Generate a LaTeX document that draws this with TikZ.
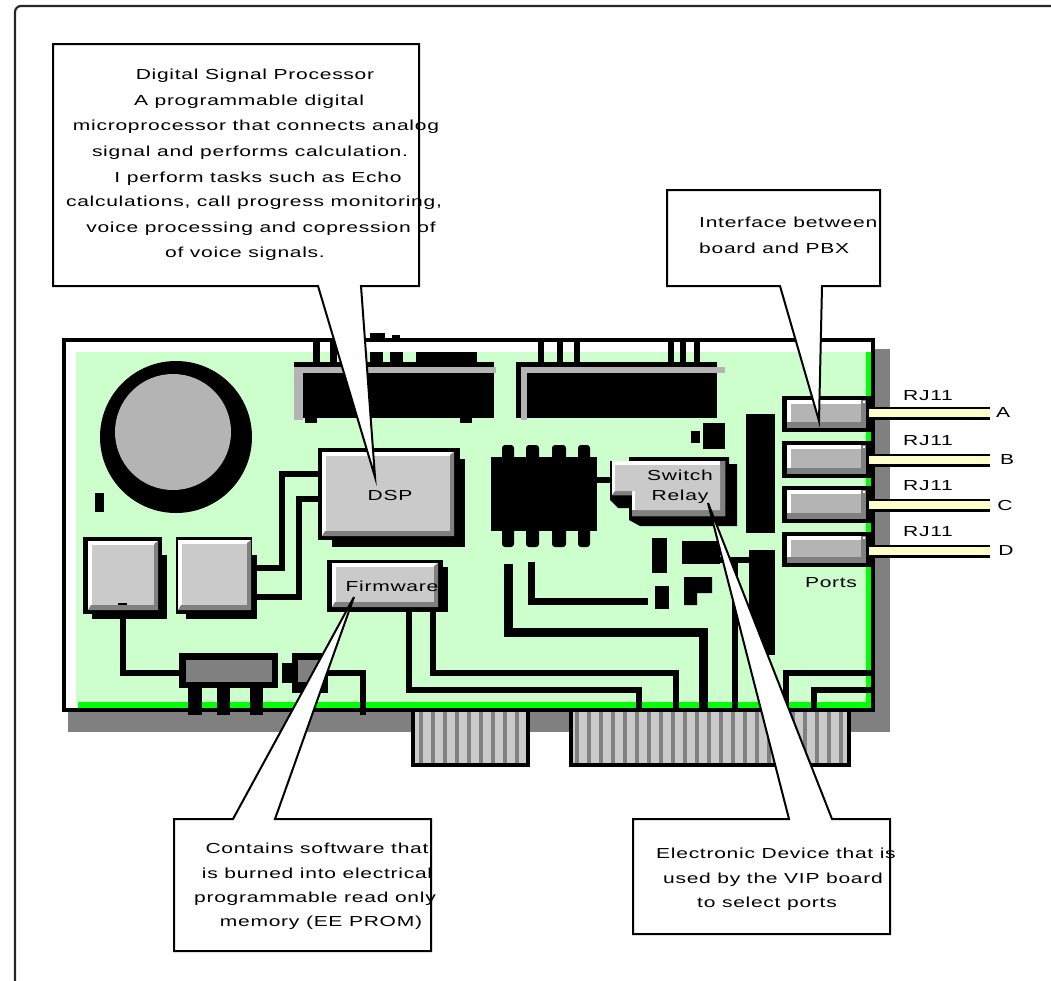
\documentclass[tikz,border=0pt]{standalone}
\usepackage{fontspec}
\setmainfont[FakeStretch=1.45,LetterSpace=5]{Liberation Sans}
\definecolor{lgreen}{HTML}{CCFFCC}
\definecolor{bgreen}{HTML}{00FF00}
\definecolor{dk}{HTML}{808080}
\definecolor{md}{HTML}{B4B4B4}
\definecolor{lt}{HTML}{CACACA}
\definecolor{cream}{HTML}{FFFFCC}
\newcommand\Bevel[5]{%
  \fill[white] (#1,#2) rectangle (#3,#4);
  \fill[dk] (#3,#2) -- (#3,#4) -- (#1,#4) -- (#1+3,#4-5) -- (#3-4,#4-5) -- (#3-4,#2+3) -- cycle;
  \fill[#5] (#1+4,#2+4) rectangle (#3-4,#4-5);
}
\tikzset{
  blk/.style={fill=black},
  trace/.style={draw=black,line width=6.5pt,line join=miter,line cap=butt},
  callout/.style={draw=black,fill=white,line width=2pt,line join=miter},
  txt/.style={inner sep=0pt,text=black,font=\fontsize{14.5}{16}\selectfont}
}
\begin{document}
\begin{tikzpicture}[x=1pt,y=-1pt]
\useasboundingbox (0,0) rectangle (1051,980);
\clip (0,0) rectangle (1051,980);
% page frame
\draw[black!85,line width=2.2pt,rounded corners=6pt] (15,990) -- (15,6) -- (1060,6);
% board shadow
\fill[dk] (68,349) rectangle (890,732);
% edge connectors
\foreach \a/\b/\c in {411/530/9, 569/851/11}{
  \fill[blk] (\a,705) rectangle (\b,767);
  \fill[lt] (\a+4,712) rectangle (\b-4,763);
}
\foreach \x in {419,431,...,520,575,587,...,845}{
  \fill[dk] (\x,712) rectangle (\x+4,763);
}
% board
\fill[white] (62,338) rectangle (875,712);
\fill[lgreen] (76,352) rectangle (866,702);
\fill[bgreen] (866,352) rectangle (872,708);
\fill[bgreen] (78,702) rectangle (872,708);
\draw[black,line width=4pt] (64,340) rectangle (873,710);
% bits above the board
\fill[blk] (370,333) rectangle (385,340);
\fill[blk] (392,335) rectangle (400,340);
% battery
\fill[blk] (176,437) circle (76);
\fill[md] (173,432) circle (58);
\fill[blk] (95,493) rectangle (104,512);
% memory chip 1
\foreach \a/\b in {313/320,330/337}{\fill[blk] (\a,340) rectangle (\b,362);}
\foreach \a/\b in {370/383,390/403,416/477}{\fill[blk] (\a,352) rectangle (\b,362);}
\fill[blk] (294,362) rectangle (494,367);
\fill[md] (294,367) rectangle (496,373);
\fill[md] (294,367) rectangle (303,420);
\fill[blk] (303,373) rectangle (494,418);
\fill[blk] (305,418) rectangle (317,423);
\fill[blk] (460,418) rectangle (472,423);
% memory chip 2
\foreach \a/\b in {538/544,557/563,574/580,668/674,680/686,694/700}{\fill[blk] (\a,340) rectangle (\b,362);}
\fill[blk] (516,362) rectangle (717,367);
\fill[blk] (516,362) rectangle (521,418);
\fill[md] (521,367) rectangle (725,373);
\fill[md] (521,367) rectangle (527,420);
\fill[blk] (527,373) rectangle (717,418);
% traces
\draw[trace] (257,568) -- (282,568) -- (282,474) -- (322,474);
\draw[trace] (257,597) -- (299,597) -- (299,499) -- (322,499);
\draw[trace] (123,615) -- (123,673) -- (182,673);
\draw[trace] (328,673) -- (363,673) -- (363,715);
\draw[trace] (409,610) -- (409,690) -- (639,690) -- (639,710);
\draw[trace] (433,610) -- (433,673) -- (676,673) -- (676,710);
\draw[trace,line width=9pt] (508,564) -- (508,632) -- (703,632) -- (703,710);
\draw[trace,line width=7pt] (531,562) -- (531,601) -- (648,601);
\draw[trace] (735,560) -- (735,710);
\draw[trace] (720,560) -- (750,560);
\draw[trace] (786,710) -- (786,673) -- (873,673);
\draw[trace] (814,710) -- (814,690) -- (873,690);
% switch block
\fill[blk] (179,653) rectangle (278,688);
\fill[dk] (186,660) rectangle (272,682);
\foreach \a/\b in {188/202,217/230,250/263}{\fill[blk] (\a,688) rectangle (\b,715);}
\fill[blk] (282,663) rectangle (292,683);
\fill[blk] (292,653) rectangle (328,693);
\fill[dk] (298,660) rectangle (322,682);
% square chips
\fill[blk] (83,537) rectangle (162,614);
\fill[blk] (92,555) rectangle (167,619);
\Bevel{88}{541}{158}{610}{lt}
\fill[blk] (118,603) rectangle (127,605);
\fill[blk] (176,537) rectangle (252,614);
\fill[blk] (186,555) rectangle (257,619);
\Bevel{178}{540}{251}{610}{lt}
% DSP
\fill[blk] (318,448) rectangle (460,540);
\fill[blk] (332,459) rectangle (465,547);
\fill[lgreen] (318,541) rectangle (332,550);
\Bevel{322}{452}{454}{536}{lt}
\node[txt] (dsplabel) at (390,495) {DSP};
% firmware
\fill[blk] (327,560) rectangle (443,612);
\fill[blk] (430,567) rectangle (448,612);
\Bevel{332}{563}{438}{607}{lt}
\node[txt] (fwlabel) at (392,586) {Firmware};
% DIP chip
\fill[blk] (491,457) rectangle (597,531);
\foreach \a/\b in {502/514,526/539,552/566,578/590}{
  \fill[blk,rounded corners=3pt] (\a,445) rectangle (\b,547);
}
\fill[blk] (597,477) rectangle (612,483);
% relay
\fill[blk] (629,457) -- (729,457) -- (729,464) -- (737,464) -- (737,526) -- (640,526) -- (629,520) -- (629,508) -- (618,508) -- (610,500) -- (610,461) -- (629,461) -- cycle;
\fill[white] (612,461) -- (725,461) -- (725,516) -- (632,516) -- (632,495) -- (612,495) -- cycle;
\fill[dk] (725,461) -- (725,516) -- (632,516) -- (632,510) -- (720,510) -- (720,461) -- cycle;
\fill[dk] (612,495) -- (632,495) -- (632,491) -- (615,491) -- cycle;
\fill[lt] (615,465) -- (720,465) -- (720,510) -- (635,510) -- (635,491) -- (615,491) -- cycle;
\node[txt] (swlabel) at (680,475) {Switch};
\node[txt] (rllabel) at (680,497) {Relay};
% other blocks
\fill[blk] (703,423) rectangle (725,449);
\fill[blk] (691,431) rectangle (700,443);
\fill[blk] (746,414) rectangle (775,533);
\fill[blk] (749,550) rectangle (775,655);
\fill[blk] (682,541) rectangle (720,564);
\fill[blk] (652,538) rectangle (667,573);
\fill[blk] (655,586) rectangle (669,609);
\fill[blk] (684,577) -- (712,577) -- (712,593) -- (697,593) -- (697,605) -- (684,605) -- cycle;
% ports
\foreach \t/\b/\ly/\rj/\L/\lx in {396/432/413/396/A/1003, 441/478/460/441/B/1007, 486/523/505/486/C/1005, 532/567/551/532/D/1006}{
  \fill[blk] (782,\t) rectangle (871,\b);
  \fill[dk] (787,\t+4) rectangle (866,\b-4);
  \fill[white] (787,\t+4) rectangle (861,\b-10);
  \fill[md] (791,\t+8) rectangle (861,\b-10);
  \fill[white] (863,\t+5) rectangle (865,\t+7);
  \fill[black] (869,\ly-6.5) rectangle (990,\ly+6.5);
  \fill[cream] (869,\ly-4) rectangle (990,\ly+4);
  \node[txt] at (928,\rj) {RJ11};
  \node[txt] at (\lx,\ly) {\L};
}
\node[txt] (ports) at (831,583) {Ports};
% callouts
\draw[callout] (53,44) -- (419,44) -- (419,286) -- (361,286) -- (375,477) -- (318,286) -- (53,286) -- cycle;
\draw[callout] (667,190) -- (880,190) -- (880,286) -- (822,286) -- (819,421) -- (780,286) -- (667,286) -- cycle;
\draw[callout] (174,819) -- (233,819) -- (354,597) -- (275,819) -- (431,819) -- (431,951) -- (174,951) -- cycle;
\draw[callout] (633,819) -- (789,819) -- (708,503) -- (832,819) -- (890,819) -- (890,934) -- (633,934) -- cycle;
% DSP callout text
\node[txt] (d1) at (255,76) {Digital Signal Processor};
\node[txt] (d2) at (249,102) {A programmable digital};
\node[txt] (d3) at (256,127) {microprocessor that connects analog};
\node[txt] (d4) at (250,153) {signal and performs calculation.};
\node[txt] (d5) at (258,179) {I perform tasks such as Echo};
\node[txt] (d6) at (254,203) {calculations, call progress monitoring,};
\node[txt] (d7) at (261,229) {voice processing and copression of};
\node[txt] (d8) at (245,254) {of voice signals.};
% interface
\node[txt,anchor=west] (i1) at (699,222) {Interface between};
\node[txt,anchor=west] (i2) at (699,248) {board and PBX};
% firmware text
\node[txt] (f1) at (317,848) {Contains software that};
\node[txt] (f2) at (317,873) {is burned into electrical};
\node[txt] (f3) at (315,899) {programmable read only};
\node[txt] (f4) at (321,923) {memory (EE PROM)};
% relay text
\node[txt] (r1) at (776,853) {Electronic Device that is};
\node[txt] (r2) at (773,880) {used by the VIP board};
\node[txt] (r3) at (767,904) {to select ports};
\end{tikzpicture}
\end{document}
